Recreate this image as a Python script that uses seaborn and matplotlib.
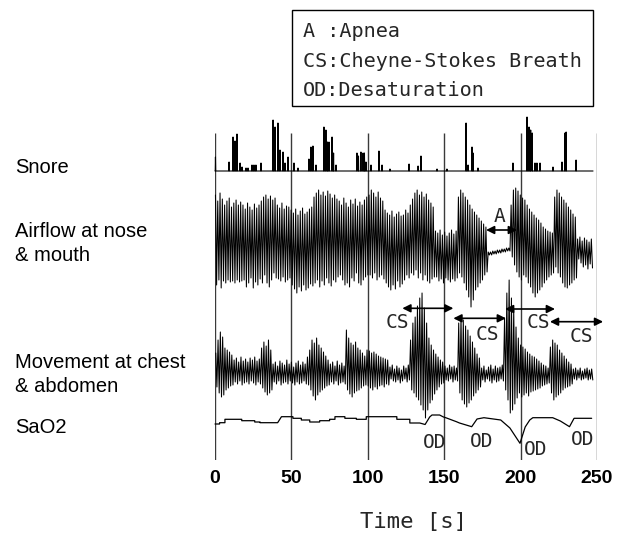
import numpy as np
import pandas as pd
import matplotlib
matplotlib.use("Agg")
import matplotlib.pyplot as plt
from matplotlib.patches import Rectangle
import seaborn as sns

# ---------------- data ----------------
time_ticks = [0, 50, 100, 150, 200, 250]
x_label = "Time [s]"
channel_labels = ["Snore", "Airflow at nose\n& mouth", "Movement at chest\n& abdomen", "SaO2"]
legend_lines = ["A :Apnea", "CS:Cheyne-Stokes Breath", "OD:Desaturation"]

# snore bursts: time [s] and height of each spike
snore_t = [0.3, 9.2, 11.8, 13.1, 14.4, 16.4, 17.7, 20.3, 21.6, 24.2, 25.5, 26.8, 30.1,
           38.0, 39.3, 41.2, 42.5, 44.5, 45.8, 47.8, 51.7, 54.3, 61.5, 62.8, 64.1, 66.1,
           71.3, 72.6, 73.6, 74.6, 76.6, 77.6, 79.2, 92.9, 93.9, 95.5, 96.9, 97.8, 98.8,
           102.1, 107.3, 109.3, 114.5, 127.0, 132.9, 134.8, 145.3, 151.8, 164.3, 165.6,
           168.2, 168.9, 172.1, 195.0, 204.2, 205.5, 206.6, 207.6, 209.4, 210.7, 212.7,
           221.2, 227.1, 229.0, 229.8, 236.3]
snore_h = [14, 9, 34, 30, 37, 8, 4, 3, 3, 6, 6, 6, 8,
           51, 44, 48, 21, 19, 8, 14, 8, 3, 12, 24, 25, 6,
           44, 41, 29, 29, 34, 18, 6, 18, 15, 19, 18, 18, 9,
           6, 20, 6, 2, 7, 5, 15, 2, 2, 48, 6,
           24, 18, 3, 8, 54, 44, 41, 38, 8, 8, 8,
           4, 9, 38, 39, 11]
snore_end = 247.4

# airflow: one peak and one trough per breathing cycle
cycle_period = 1.5
airflow_start = 0.3
airflow_peaks = [50, 44, 52,
                 46, 40, 44, 47, 38, 42, 45, 40, 43,
                 40, 36, 42, 38, 35, 41, 37, 40, 44,
                 48, 50, 46, 49, 45, 47,
                 40, 37, 42, 36, 39, 38,
                 35, 32, 36, 30, 34, 37, 31, 33, 36, 38,
                 48, 52, 55, 50, 53, 49, 54, 51, 47, 50, 46,
                 44, 40, 47, 42, 38, 45, 41, 46, 39, 43, 40, 45, 48,
                 50, 55, 52, 48, 53, 47, 44,
                 35, 32, 30, 34, 28, 31, 33, 29, 30, 35, 32, 40,
                 46, 52, 55, 50, 53, 48, 51, 45, 42, 38,
                 14, 12, 15, 10, 13, 9, 12, 15, 11, 14,
                 48, 55, 52, 48, 45, 40, 36, 33, 30, 27, 24, 21, 18,
                 -7, -7, -6, -6, -5, -5, -4, -4, -3, -3,
                 40, 55, 57, 54, 50, 47,
                 45, 40, 36, 33, 30, 27, 25, 22, 18, 16, 14, 13, 12,
                 48, 55, 52, 48, 45, 42, 38, 35, 31, 28,
                 6, 8, 4, 7, 5, 3, 6]
airflow_troughs = [-40, -35, -43,
                   -36, -38, -35, -37, -36, -38, -35, -37, -36,
                   -35, -42, -38, -33, -43, -37, -40, -34, -38,
                   -30, -38, -42, -35, -28, -33,
                   -34, -36, -32, -37, -35, -33,
                   -40, -44, -48, -42, -46, -40, -45, -43, -39, -41,
                   -38, -35, -42, -36, -40, -33, -38, -41, -35, -37, -32,
                   -30, -35, -40, -38, -42, -33, -36, -28, -38, -40, -35, -32, -30,
                   -30, -33, -28, -35, -32, -30, -34,
                   -38, -42, -45, -40, -44, -36, -42, -39, -35, -30, -33, -28,
                   -30, -25, -33, -28, -35, -30, -36, -38, -34, -32,
                   -32, -36, -34, -38, -33, -35, -37, -34, -36, -33,
                   -28, -32, -38, -45, -52, -62, -55, -45, -42, -38, -35, -30, -27,
                   -10, -10, -9, -9, -8, -8, -7, -7, -6, -6,
                   -12, -20, -27, -32, -35, -30,
                   -32, -38, -42, -48, -52, -48, -45, -42, -38, -35, -32, -30, -28,
                   -22, -28, -32, -38, -42, -43, -40, -38, -35, -33,
                   -14, -18, -22, -20, -24, -19, -23]

# chest & abdomen movement: one peak and one trough per cycle
movement_start = 0.5
movement_peaks = [25, 38, 46, 41, 30, 28, 26, 23,
                  18, 20, 16, 21, 17, 19, 16, 20, 18, 21, 17, 19,
                  30, 36, 32, 38, 28,
                  14, 16, 12, 17, 15, 13, 18, 14, 16, 11, 15, 17, 13, 16, 14,
                  21, 28, 38, 35, 40, 33, 30, 26, 22, 18,
                  14, 16, 12, 17, 13, 15, 12,
                  48, 40, 35, 33, 36, 30, 28, 25, 22,
                  28, 27, 25, 26, 24, 22, 21, 20, 19, 18,
                  11, 13, 9, 12, 10, 8, 12, 10, 13,
                  38, 55, 61, 72, 80, 85, 70, 55, 40, 33, 28, 24, 21, 18, 16,
                  12, 10, 13, 11, 12, 10,
                  55, 61, 58, 52, 48, 42, 36, 30, 24, 20,
                  10, 12, 8, 11, 13, 9, 12, 10, 11, 13,
                  60, 85, 98, 80, 68, 51, 40,
                  33, 31, 29, 26, 24, 22, 21, 19, 17, 15, 13, 12, 10,
                  31, 38, 35, 33, 28, 25, 22, 19, 16, 14,
                  9, 10, 8, 10, 7, 9, 10, 8, 9]
movement_troughs = [-9, -15, -19, -17, -12, -10, -8, -7,
                    -4, -6, -3, -7, -5, -4, -6, -3, -5, -7, -4, -6,
                    -10, -14, -17, -15, -12,
                    -4, -6, -3, -7, -5, -4, -6, -3, -5, -7, -4, -6, -5, -3, -6,
                    -7, -12, -18, -22, -17, -14, -12, -10, -8, -7,
                    -4, -6, -3, -7, -5, -4, -6,
                    -12, -16, -19, -15, -13, -12, -10, -8, -7,
                    -8, -10, -12, -9, -11, -8, -7, -9, -6, -7,
                    -1, -3, -4, -2, -5, -3, -1, -4, -2,
                    -12, -15, -19, -22, -27, -32, -40, -32, -25, -22, -16, -12, -9, -6, -5,
                    -2, -3, -1, -4, -2, -3,
                    -15, -22, -26, -29, -25, -22, -18, -15, -12, -9,
                    -2, -4, -1, -3, -5, -2, -4, -3, -1, -3,
                    -12, -22, -35, -32, -26, -20, -15,
                    -19, -17, -15, -18, -14, -13, -12, -11, -10, -8, -7, -6, -5,
                    -15, -22, -19, -17, -15, -12, -10, -9, -8, -6,
                    -1, -2, 0, -2, -1, 0, -2, -1, -2]

# SaO2 trace (relative level)
sao2_t = [0, 3, 3, 6.5, 6.5, 17.5, 17.5, 26, 26, 29.5, 29.5, 41, 43.5, 51, 51, 56.5, 56.5,
          62, 62, 68.5, 68.5, 75, 75, 78.5, 78.5, 85, 85, 92.5, 92.5, 99, 99, 119, 119,
          127.5, 127.5, 134, 137.5, 140.5, 142, 147, 149.5, 151, 158, 160, 168, 171.5,
          176, 187, 193, 199.6, 203, 206, 208, 221, 226, 232, 235, 246.5]
sao2_v = [6, 6, 7.3, 7.3, 10.7, 10.7, 9.3, 9.3, 8, 8, 7.3, 7.3, 13.3, 13.3, 11.7, 11.7, 10,
          10, 8, 8, 9.3, 9.3, 10.7, 10.7, 13.3, 13.3, 11.7, 11.7, 10.7, 10.7, 13.3, 13.3, 10.7,
          10.7, 7, 7, 5.5, 13, 15, 15, 13, 12.3, 8.3, 7, 3.3, 11,
          12.3, 10, 2, -13.3, 3, 10, 12.3, 12.3, 9, 3.3, 11.7, 11.7]

# event annotations
apnea_span = (177.4, 197.6)
apnea_label_t = 186.5
cs_spans = [(122.6, 156.0), (156.0, 190.4), (189.8, 222.5), (219.2, 254.0)]
cs_label_t = [119.1, 178.3, 211.7, 239.5]
od_label_t = [143.6, 174.4, 210.1, 240.5]

# ---------------- layout (pixel rows of the figure) ----------------
W, H = 629, 533
SNORE_BASE, AIR_BASE, MOVE_BASE, SAO2_BASE = 171, 245, 378, 430
label_rows = [[173.3], [236.7, 261.0], [368.0, 392.0], [433.3]]
legend_rows = [36.7, 66.7, 96.5]
cs_rows = [(308.3, 328), (318.3, 340), (309.0, 328), (321.7, 341.7)]
od_rows = [448.3, 446.7, 455.0, 445.0]


def fx(px):
    return px / W


def fy(py):
    return 1 - py / H


sns.set_theme(style="white")
plt.rcParams["font.family"] = ["Liberation Sans", "DejaVu Sans"]

fig = plt.figure(figsize=(6.29, 5.33), dpi=100)
ax = fig.add_axes([fx(215), fy(460), fx(597) - fx(215), fy(100) - fy(460)])
ax.set_xlim(0, 250)
ax.set_ylim(460, 100)

# vertical time grid
ax.vlines(time_ticks, 133, 460, color="#3a3a3a", lw=1.0, zorder=1)

# snore trace
st, sy = [0.0], [SNORE_BASE]
for t, h in zip(snore_t, snore_h):
    st += [t - 0.15, t, t + 0.15]
    sy += [SNORE_BASE, SNORE_BASE - h, SNORE_BASE]
st.append(snore_end)
sy.append(SNORE_BASE)
snore_df = pd.DataFrame({"t": st, "y": sy})


def osc_frame(start, peaks, troughs, base):
    tt, yy = [], []
    for i, (p, q) in enumerate(zip(peaks, troughs)):
        t0 = start + cycle_period * i
        tt += [t0, t0 + cycle_period / 2]
        yy += [base - p, base - q]
    return pd.DataFrame({"t": tt, "y": yy})


air_df = osc_frame(airflow_start, airflow_peaks, airflow_troughs, AIR_BASE)
move_df = osc_frame(movement_start, movement_peaks, movement_troughs, MOVE_BASE)
sao2_df = pd.DataFrame({"t": sao2_t, "y": [SAO2_BASE - v for v in sao2_v]})

for df, lw in [(snore_df, 0.8), (air_df, 0.75), (move_df, 0.75), (sao2_df, 0.9)]:
    sns.lineplot(data=df, x="t", y="y", ax=ax, estimator=None, sort=False,
                 color="black", lw=lw, zorder=2)
    ax.lines[-1].set_clip_on(False)

ax.set_xlabel("")
ax.set_ylabel("")
for s in ax.spines.values():
    s.set_visible(False)
ax.set_yticks([])
ax.set_xticks(time_ticks)
ax.set_xticklabels([str(v) for v in time_ticks], fontsize=14, fontweight="bold",
                   family="Liberation Sans")
ax.tick_params(axis="x", length=0, pad=7, colors="black")

mono = "DejaVu Sans Mono"
arrow_kw = dict(arrowstyle="<|-|>", color="black", lw=1.2, mutation_scale=12,
                shrinkA=0, shrinkB=0)

# apnea
ax.annotate("", xy=(apnea_span[1], 230), xytext=(apnea_span[0], 230),
            arrowprops=arrow_kw, annotation_clip=False)
ax.text(apnea_label_t, 221.7, "A", family=mono, fontsize=14, ha="center", va="baseline")

# Cheyne-Stokes
for (t0, t1), lt, (ay, ly) in zip(cs_spans, cs_label_t, cs_rows):
    ax.annotate("", xy=(t1, ay), xytext=(t0, ay), arrowprops=arrow_kw, annotation_clip=False)
    ax.text(lt, ly, "CS", family=mono, fontsize=14, ha="center", va="baseline")

# desaturation
for lt, ly in zip(od_label_t, od_rows):
    ax.text(lt, ly, "OD", family=mono, fontsize=14, ha="center", va="baseline")

# channel labels
for lab, rows in zip(channel_labels, label_rows):
    for line, r in zip(lab.split("\n"), rows):
        fig.text(fx(15), fy(r), line, fontsize=14.5, family="Liberation Sans",
                 va="baseline", ha="left", color="black")

# legend box
fig.add_artist(Rectangle((fx(291.7), fy(106)), fx(593.3) - fx(291.7), fy(10) - fy(106),
                         transform=fig.transFigure, fill=False, ec="black", lw=1.0))
for line, r in zip(legend_lines, legend_rows):
    fig.text(fx(302.7), fy(r), line, family=mono, fontsize=14.5, va="baseline", ha="left")

fig.text(fx(413.3), fy(528), x_label, family=mono, fontsize=16, ha="center", va="baseline")

fig.savefig("out.png", dpi=100, facecolor="white")
